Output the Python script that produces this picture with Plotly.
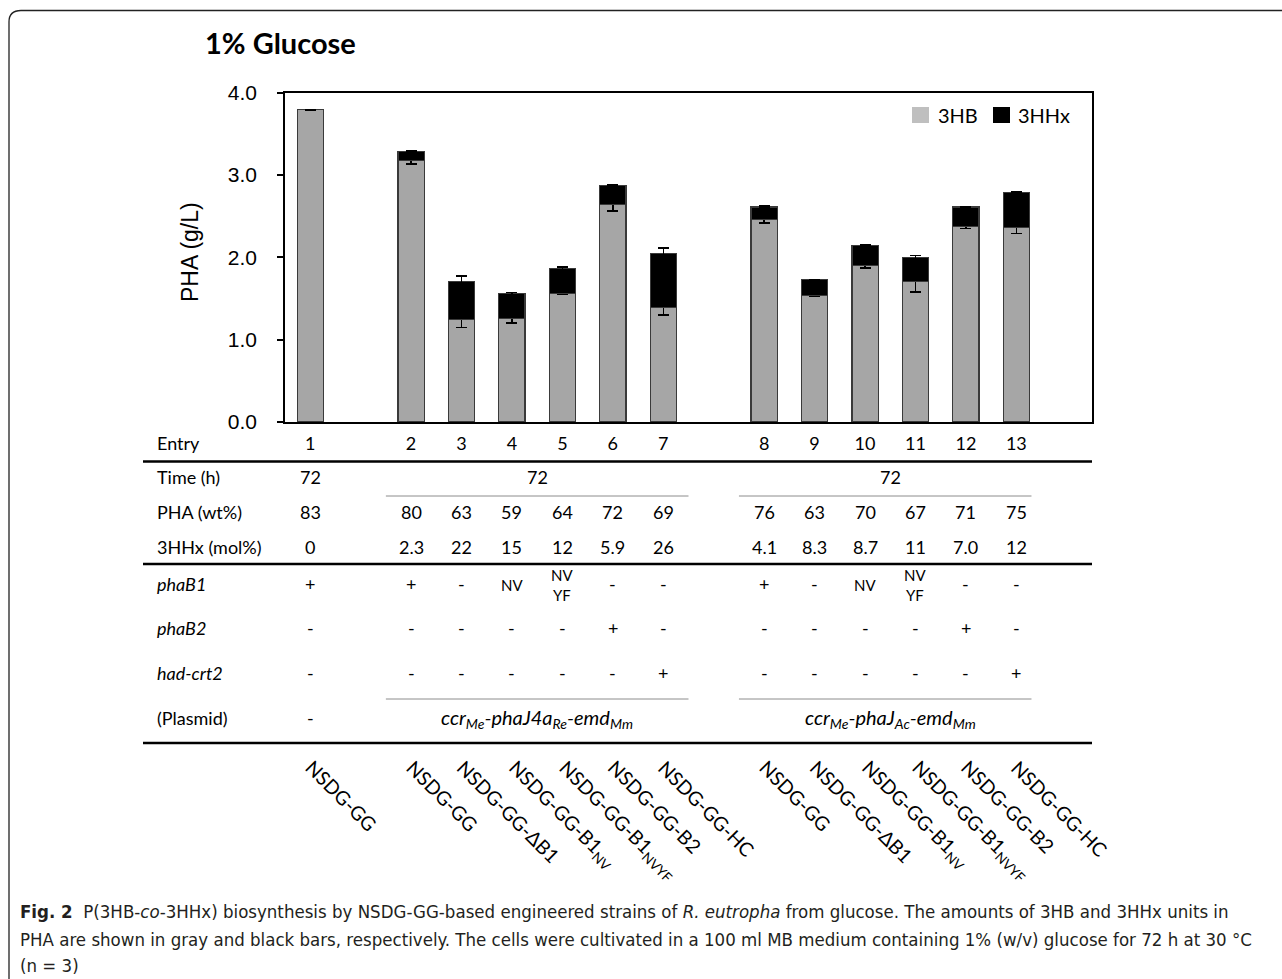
import plotly.graph_objects as go

# ---- data ----
entries = [str(i) for i in range(1, 14)]
strains = [
    "NSDG-GG",
    "NSDG-GG", "NSDG-GG-ΔB1", "NSDG-GG-B1<sub>NV</sub>", "NSDG-GG-B1<sub>NVYF</sub>",
    "NSDG-GG-B2", "NSDG-GG-HC",
    "NSDG-GG", "NSDG-GG-ΔB1", "NSDG-GG-B1<sub>NV</sub>", "NSDG-GG-B1<sub>NVYF</sub>",
    "NSDG-GG-B2", "NSDG-GG-HC",
]
hb = [3.79, 3.17, 1.24, 1.26, 1.56, 2.64, 1.39, 2.46, 1.54, 1.90, 1.71, 2.37, 2.36]
hhx = [0.00, 0.11, 0.47, 0.30, 0.30, 0.23, 0.66, 0.15, 0.19, 0.24, 0.29, 0.24, 0.43]
hb_err = [0.005, 0.04, 0.09, 0.06, 0.01, 0.08, 0.09, 0.045, 0.01, 0.03, 0.13, 0.02, 0.07]
hhx_err = [0.005, 0.01, 0.06, 0.01, 0.02, 0.01, 0.06, 0.01, 0.0, 0.01, 0.02, 0.0, 0.01]

pha_wt = ["83", "80", "63", "59", "64", "72", "69", "76", "63", "70", "67", "71", "75"]
hhx_mol = ["0", "2.3", "22", "15", "12", "5.9", "26", "4.1", "8.3", "8.7", "11", "7.0", "12"]
phaB1 = ["+", "+", "-", "NV", "NV<br>YF", "-", "-", "+", "-", "NV", "NV<br>YF", "-", "-"]
phaB2 = ["-", "-", "-", "-", "-", "+", "-", "-", "-", "-", "-", "+", "-"]
had_crt2 = ["-", "-", "-", "-", "-", "-", "+", "-", "-", "-", "-", "-", "+"]

# entry groups (indices into entries) with their shared time and plasmid
groups = [[0], [1, 2, 3, 4, 5, 6], [7, 8, 9, 10, 11, 12]]
group_time = ["72", "72", "72"]
group_plasmid = [
    "-",
    "<i>ccr<sub>Me</sub>-phaJ4a<sub>Re</sub>-emd<sub>Mm</sub></i>",
    "<i>ccr<sub>Me</sub>-phaJ<sub>Ac</sub>-emd<sub>Mm</sub></i>",
]

# ---- layout helpers ----
W, H = 1282, 979


def px(x):
    return x / W


def py(y):
    return 1 - y / H


# slot positions: one empty slot between groups
pos = []
slot = 0
for g in groups:
    for _ in g:
        pos.append(slot)
        slot += 1
    slot += 1
n_slots = slot - 1

TABLE_FONT = "Lato, 'Open Sans', sans-serif"
AX_FONT = "'Liberation Sans', Arial, sans-serif"
CAP_FONT = "'DejaVu Sans Condensed', 'Arial Narrow', sans-serif"

fig = go.Figure()
fig.add_trace(go.Bar(
    x=pos, y=hb, name="3HB", width=0.52,
    marker=dict(color="#a6a6a6", line=dict(color="#3a3a3a", width=1.2)),
    error_y=dict(type="data", array=hb_err, color="black", thickness=1.5, width=5.5),
    showlegend=False,
))
fig.add_trace(go.Bar(
    x=pos, y=hhx, name="3HHx", width=0.52,
    marker=dict(color="black", line=dict(color="#3a3a3a", width=1.2)),
    error_y=dict(type="data", array=hhx_err, color="black", thickness=1.5, width=5.5),
    showlegend=False,
))

fig.update_layout(
    width=W, height=H, barmode="stack",
    margin=dict(l=0, r=0, t=0, b=0, autoexpand=False),
    paper_bgcolor="white", plot_bgcolor="white",
    xaxis=dict(
        domain=[px(285), px(1092)], range=[-0.5, n_slots + 0.5],
        tickmode="array", tickvals=pos, ticktext=entries,
        showline=True, linecolor="black", linewidth=1.5, mirror=True,
        ticks="", showgrid=False, zeroline=False, automargin=False,
        tickfont=dict(family=TABLE_FONT, size=18, color="black"),
        ticklabelstandoff=5,
    ),
    yaxis=dict(
        domain=[py(422), py(92.5)], range=[0, 4], dtick=1, tickformat=".1f",
        showline=True, linecolor="black", linewidth=1.5, mirror=True,
        ticks="outside", ticklen=6, tickwidth=1.5, tickcolor="black",
        showgrid=False, zeroline=False, automargin=False,
        tickfont=dict(family=AX_FONT, size=21, color="black"),
        ticklabelstandoff=16,
    ),
)

ann = []
shapes = []


def text(x, y, s, size=18, xref="paper", xanchor="center", yanchor="middle",
         family=TABLE_FONT, angle=0, xshift=0, color="black"):
    ann.append(dict(x=x, y=y, xref=xref, yref="paper", text=s, showarrow=False,
                    xanchor=xanchor, yanchor=yanchor, textangle=angle, xshift=xshift,
                    font=dict(family=family, size=size, color=color)))


# title and axis title
text(px(203), py(42), "<b>1% Glucose</b>", size=29, xanchor="left")
text(px(190), py(252), "PHA (g/L)", size=23, family=AX_FONT, angle=-90)

# legend
shapes.append(dict(type="rect", xref="paper", yref="paper", x0=px(912), x1=px(929),
                   y0=py(123), y1=py(107), fillcolor="#bfbfbf", line=dict(width=0)))
shapes.append(dict(type="rect", xref="paper", yref="paper", x0=px(993), x1=px(1010),
                   y0=py(123), y1=py(107), fillcolor="black", line=dict(width=0)))
text(px(936), py(115), "3HB", size=20, xanchor="left")
text(px(1016), py(115), "3HHx", size=20, xanchor="left")

# table rows
ROW_Y = {"entry": 443, "time": 477, "wt": 512, "mol": 547,
         "b1": 584, "b2": 628, "hc": 673, "plasmid": 718}
LABEL_X = px(155)
text(LABEL_X, py(ROW_Y["entry"]), "Entry", xanchor="left")
text(LABEL_X, py(ROW_Y["time"]), "Time (h)", xanchor="left")
text(LABEL_X, py(ROW_Y["wt"]), "PHA (wt%)", xanchor="left")
text(LABEL_X, py(ROW_Y["mol"]), "3HHx (mol%)", xanchor="left")
text(LABEL_X, py(ROW_Y["b1"]), "<i>phaB1</i>", xanchor="left")
text(LABEL_X, py(ROW_Y["b2"]), "<i>phaB2</i>", xanchor="left")
text(LABEL_X, py(ROW_Y["hc"]), "<i>had-crt2</i>", xanchor="left")
text(LABEL_X, py(ROW_Y["plasmid"]), "(Plasmid)", xanchor="left")

for i, p in enumerate(pos):
    text(p, py(ROW_Y["wt"]), pha_wt[i], xref="x")
    text(p, py(ROW_Y["mol"]), hhx_mol[i], xref="x")
    if phaB1[i] in ("+", "-"):
        text(p, py(ROW_Y["b1"]), phaB1[i], xref="x")
    else:
        text(p, py(ROW_Y["b1"] + 1), phaB1[i], size=15, xref="x")
    text(p, py(ROW_Y["b2"]), phaB2[i], xref="x")
    text(p, py(ROW_Y["hc"]), had_crt2[i], xref="x")
    # strain names, slanted
    text(p, py(753), strains[i], size=19.5, xref="x", xanchor="left", yanchor="top",
         angle=45, xshift=-12)

for g, t, pl in zip(groups, group_time, group_plasmid):
    centre = (pos[g[0]] + pos[g[-1]]) / 2
    text(centre, py(ROW_Y["time"]), t, xref="x")
    text(centre, py(ROW_Y["plasmid"]), pl, size=18 if pl == "-" else 20, xref="x")
    if len(g) > 1:
        right = pos[g[-1]] + 0.5 if g[-1] != len(pos) - 1 else pos[g[-1]] + 0.3
        for yy in (496, 699):
            shapes.append(dict(type="line", xref="x", yref="paper",
                               x0=pos[g[0]] - 0.5, x1=right, y0=py(yy), y1=py(yy),
                               line=dict(color="#8c8c8c", width=1)))

for yy in (461.5, 564, 743):
    shapes.append(dict(type="line", xref="paper", yref="paper",
                       x0=px(143), x1=px(1092), y0=py(yy), y1=py(yy),
                       line=dict(color="black", width=2.5)))

# frame around the figure panel
frame = (f"M {px(9)} {py(979)} L {px(9)} {py(22)} "
         f"Q {px(9)} {py(10.5)} {px(21)} {py(10.5)} L {px(1282)} {py(10.5)}")
shapes.append(dict(type="path", xref="paper", yref="paper", path=frame,
                   line=dict(color="#222222", width=1.3)))

# caption
CAP = 18.5
text(px(18), py(911),
     "<b>Fig. 2</b>  P(3HB-<i>co</i>-3HHx) biosynthesis by NSDG-GG-based engineered strains of "
     "<i>R. eutropha</i> from glucose. The amounts of 3HB and 3HHx units in",
     size=CAP, xanchor="left", family=CAP_FONT, color="#231f20")
text(px(18), py(939),
     "PHA are shown in gray and black bars, respectively. The cells were cultivated in a 100 ml "
     "MB medium containing 1% (w/v) glucose for 72 h at 30 °C",
     size=CAP, xanchor="left", family=CAP_FONT, color="#231f20")
text(px(18), py(965), "(n = 3)", size=CAP, xanchor="left", family=CAP_FONT, color="#231f20")

fig.update_layout(annotations=ann, shapes=shapes)
fig.write_html("out.html")
